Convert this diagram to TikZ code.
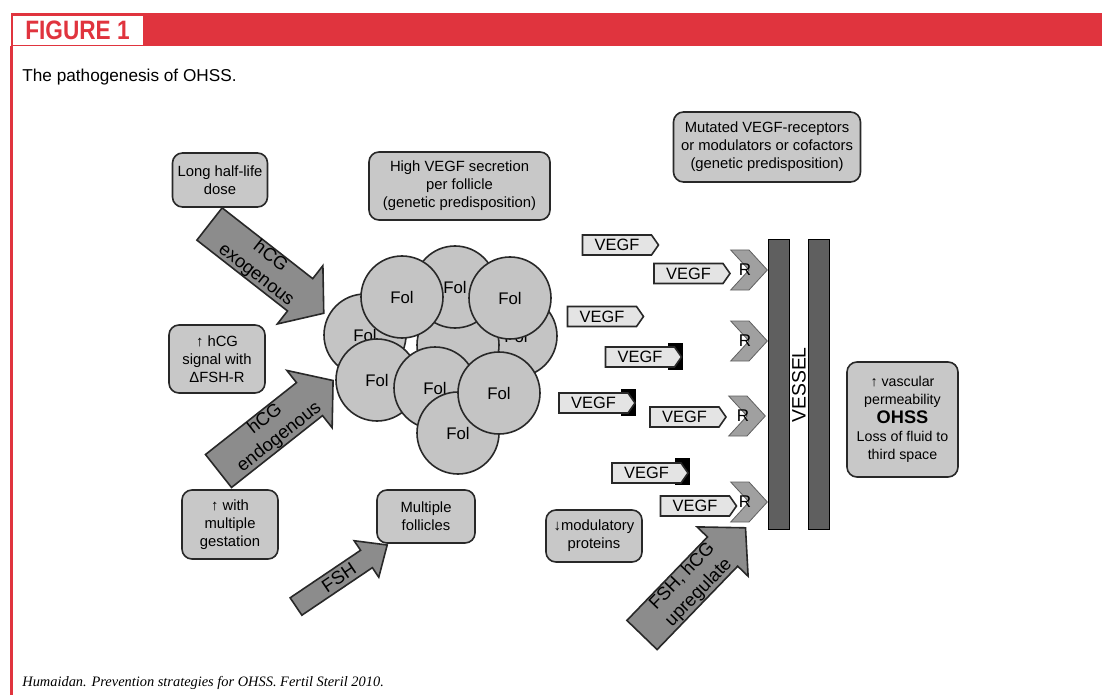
\documentclass[tikz,border=0pt]{standalone}
\usepackage{fontspec}
\setmainfont{Liberation Sans}
\newfontfamily\citefont{Liberation Serif}
\usetikzlibrary{shapes.symbols}

\definecolor{figred}{RGB}{224,52,62}
\definecolor{boxgray}{RGB}{200,200,200}
\definecolor{folgray}{RGB}{196,196,196}
\definecolor{arrgray}{RGB}{140,140,140}
\definecolor{rgray}{RGB}{160,160,160}
\definecolor{taggray}{RGB}{228,228,228}
\definecolor{vesselgray}{RGB}{95,95,95}
\definecolor{linegray}{RGB}{40,40,40}

% fat arrow: name, tail, angle, length, shaft/2, head/2, head length, text
\newcommand{\blockarrow}[8]{%
  \begin{scope}[shift={#2},rotate=#3]
    \draw[fatarrow] (0,-#5) -- ({#4-#7},-#5) -- ({#4-#7},-#6) -- (#4,0)
      -- ({#4-#7},#6) -- ({#4-#7},#5) -- (0,#5) -- cycle;
    \node[fatlabel,rotate=#3] (#1) at ({0.47*#4},0) {#8};
  \end{scope}}

\begin{document}
\begin{tikzpicture}
[x=0.5pt,y=-0.5pt,%
  box/.style={draw=linegray,thick,fill=boxgray,rounded corners=5pt,align=center,inner sep=1pt,font=\fontsize{7.4}{9}\selectfont},%
  fol/.style={circle,draw=linegray,thick,fill=folgray,minimum size=41pt,inner sep=0pt,font=\fontsize{8.4}{10}\selectfont},%
  tag/.style={signal,signal to=east,signal pointer angle=110,draw=linegray,thick,fill=taggray,minimum width=38pt,minimum height=10pt,inner sep=1pt,font=\fontsize{8.2}{8.2}\selectfont},%
  blocker/.style={fill=black,inner sep=0pt,minimum width=7.5pt,minimum height=13.5pt},%
  rcpt/.style={signal,signal to=east,signal from=west,signal pointer angle=95,draw=rgray!60!black,fill=rgray,minimum width=18pt,minimum height=20pt,inner sep=0pt,label={[xshift=-2pt,font=\fontsize{8.5}{8.5}\selectfont]center:R}},%
  wall/.style={draw=black,fill=vesselgray,minimum width=10.5pt,minimum height=145pt,inner sep=0pt},%
  fatarrow/.style={draw=linegray,thick,fill=arrgray},%
  fatlabel/.style={align=center,inner sep=0pt,font=\fontsize{9.2}{11.5}\selectfont}]
\useasboundingbox[fill=white] (0,0) rectangle (1102,695);

% frame
\fill[figred] (11,13) rectangle (1102,46);
\fill[figred] (10,46) rectangle (13,695);
\node[draw=figred,fill=white,minimum width=65.5pt,minimum height=15pt,inner sep=0pt,text=figred,font=\fontsize{13.3}{13.3}\selectfont\bfseries] (fig) at (77.5,30) {\scalebox{0.85}[1]{FIGURE 1}};
\node[anchor=west,inner sep=0pt,font=\fontsize{8.6}{10}\selectfont] (title) at (22,77) {The pathogenesis of OHSS.};
\node[anchor=west,inner sep=0pt,font={\fontsize{7.2}{9}\citefont\itshape}] (cite) at (22,683) {Humaidan. Prevention strategies for OHSS. Fertil Steril 2010.};

% boxes
\node[box,minimum width=47.5pt,minimum height=27pt] (halflife) at (220,180) {Long half-life\\dose};
\node[box,minimum width=48pt,minimum height=34pt] (hcgsig) at (217,359) {↑ hCG\\signal with\\ΔFSH-R};
\node[box,minimum width=48pt,minimum height=34.5pt] (gest) at (230,524.5) {↑ with\\multiple\\gestation};
\node[box,minimum width=90.5pt,minimum height=34pt] (highvegf) at (459.5,186) {High VEGF secretion\\per follicle\\(genetic predisposition)};
\node[box,minimum width=49pt,minimum height=26.5pt] (multi) at (426,516.5) {Multiple\\follicles};
\node[box,minimum width=93.5pt,minimum height=35pt] (mutated) at (767,147) {Mutated VEGF-receptors\\or modulators or cofactors\\(genetic predisposition)};
\node[box,minimum width=48pt,minimum height=26pt] (modul) at (594,536) {↓modulatory\\proteins};
\node[box,minimum width=55.5pt,minimum height=57.5pt,font=\fontsize{7.1}{9.2}\selectfont] (ohss) at (902.5,419.5) {↑ vascular\\permeability\\{\fontsize{9.1}{11}\selectfont\bfseries OHSS}\\Loss of fluid to\\third space};

% fat arrows
\blockarrow{exo}{(209.5,224)}{-38}{145}{20.5}{37}{30}{hCG\\exogenous}
\blockarrow{endo}{(218.5,471)}{38.3}{146}{21}{36.5}{30}{hCG\\endogenous}
\blockarrow{fsh}{(296,606.5)}{34}{110}{10.5}{22}{25}{FSH}
\blockarrow{upreg}{(642,635)}{46}{149}{21}{35.5}{33}{FSH, hCG\\upregulate}

% follicles
\node[fol] (f1) at (516,336) {Fol};
\node[fol] (f2) at (365,335) {Fol};
\node[fol] (f0) at (458,345) {};
\node[fol] (f3) at (455,287) {Fol};
\node[fol] (f4) at (402,297) {Fol};
\node[fol] (f5) at (510,298) {Fol};
\node[fol] (f6) at (377,380) {Fol};
\node[fol] (f7) at (435,388) {Fol};
\node[fol] (f8) at (458,433) {Fol};
\node[fol] (f9) at (499,393) {Fol};

% VEGF
\node[tag] (v1) at (617,245) {VEGF};
\node[tag] (v2) at (688.5,273.5) {VEGF};
\node[tag] (v3) at (602,316.5) {VEGF};
\node[blocker] (k4) at (675.5,356.5) {};
\node[tag] (v4) at (640,357) {VEGF};
\node[blocker] (k5) at (628.5,402) {};
\node[tag] (v5) at (593.5,403) {VEGF};
\node[tag] (v6) at (684.5,417) {VEGF};
\node[blocker] (k7) at (682.5,471.5) {};
\node[tag] (v7) at (646.5,473) {VEGF};
\node[tag] (v8) at (695,506) {VEGF};

% receptors and vessel
\node[rcpt] (r1) at (749,270) {};
\node[rcpt] (r2) at (749,341) {};
\node[rcpt] (r3) at (747,416) {};
\node[rcpt] (r4) at (749,502) {};
\node[wall] (wl) at (778.5,384) {};
\node[wall] (wr) at (819,384) {};
\node[rotate=90,font=\fontsize{9.7}{10}\selectfont] (vessel) at (799,385) {VESSEL};
\end{tikzpicture}
\end{document}
